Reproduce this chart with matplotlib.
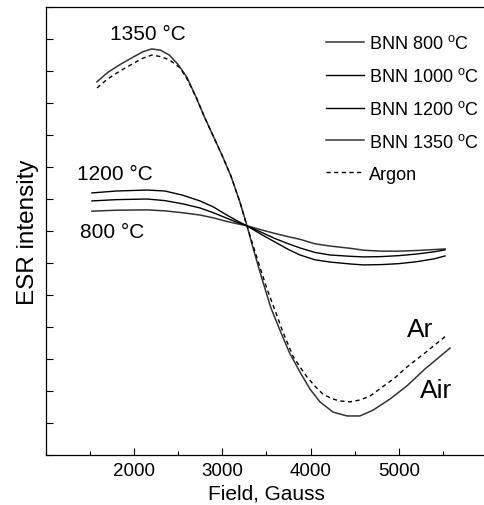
import matplotlib
matplotlib.use('Agg')
import matplotlib.pyplot as plt
from matplotlib.ticker import MultipleLocator, NullFormatter

plt.rcParams.update({
    'font.family': ['Liberation Sans', 'DejaVu Sans'],
    'font.size': 13,
    'mathtext.fontset': 'custom',
    'mathtext.rm': 'Liberation Sans',
})

# ── Data ──────────────────────────────────────────────────────────
# 1350 C sample measured in air (solid) and in argon (dashed)
air_x = [1580, 1700, 1841, 2000, 2100, 2200, 2300, 2400, 2500, 2600, 2700, 2800,
         2900, 3000, 3100, 3200, 3280, 3350, 3450, 3550, 3653, 3760, 3880, 3993,
         4106, 4254, 4412, 4559, 4706, 4900, 5091, 5300, 5579]
air_y = [11.66, 11.95, 12.2, 12.45, 12.6, 12.69, 12.65, 12.5, 12.2, 11.8, 11.2, 10.55,
         9.95, 9.35, 8.7, 7.9, 7.16, 6.45, 5.5, 4.6, 3.9, 3.2, 2.59, 2.06,
         1.66, 1.34, 1.22, 1.22, 1.4, 1.75, 2.16, 2.7, 3.34]

ar_x = [1581, 1700, 1841, 2000, 2100, 2204, 2300, 2400, 2521, 2600, 2700, 2800,
        2900, 3000, 3100, 3200, 3280, 3400, 3506, 3600, 3687, 3801, 3880, 3959,
        4050, 4140, 4250, 4333, 4446, 4560, 4672, 4800, 4950, 5091, 5300, 5545]
ar_y = [11.47, 11.75, 12.0, 12.25, 12.4, 12.5, 12.45, 12.35, 12.1, 11.75, 11.2, 10.55,
        9.95, 9.35, 8.7, 7.9, 7.15, 6.1, 5.19, 4.5, 3.84, 3.09, 2.75, 2.44,
        2.15, 1.9, 1.75, 1.69, 1.66, 1.72, 1.84, 2.1, 2.4, 2.75, 3.2, 3.75]

low_x = [1524, 1800, 2147, 2350, 2550, 2747, 2900, 3050, 3180, 3280, 3450, 3600,
         3750, 3880, 4050, 4220, 4446, 4600, 4800, 5000, 5200, 5400, 5522]
bnn1200_y = [8.19, 8.25, 8.28, 8.25, 8.12, 7.94, 7.75, 7.5, 7.3, 7.16, 6.88, 6.65,
             6.42, 6.25, 6.1, 6.03, 5.97, 5.94, 5.95, 5.98, 6.04, 6.13, 6.22]
bnn1000_y = [7.94, 7.98, 8.0, 7.95, 7.85, 7.72, 7.57, 7.4, 7.26, 7.16, 6.95, 6.76,
             6.6, 6.47, 6.33, 6.25, 6.21, 6.19, 6.2, 6.23, 6.28, 6.35, 6.41]
bnn800_y = [7.62, 7.65, 7.66, 7.63, 7.57, 7.5, 7.41, 7.3, 7.22, 7.16, 7.03, 6.92,
            6.82, 6.74, 6.6, 6.53, 6.46, 6.4, 6.37, 6.37, 6.39, 6.42, 6.44]

legend_labels = ['BNN 800 $^{\\rm o}$C', 'BNN 1000 $^{\\rm o}$C',
                 'BNN 1200 $^{\\rm o}$C', 'BNN 1350 $^{\\rm o}$C', 'Argon']

# ── Plot ──────────────────────────────────────────────────────────
fig = plt.figure(figsize=(4.85, 5.06), dpi=100)
ax = fig.add_axes([45.7 / 485, 50 / 506, 441.5 / 485, 448 / 506])

l800, = ax.plot(low_x, bnn800_y, color='#333333', lw=1.1)
l1000, = ax.plot(low_x, bnn1000_y, color='black', lw=1.0)
l1200, = ax.plot(low_x, bnn1200_y, color='black', lw=1.0)
l1350, = ax.plot(air_x, air_y, color='#333333', lw=1.1)
lar, = ax.plot(ar_x, ar_y, color='black', lw=1.0, ls=(0, (3, 2.5)))

ax.legend([l800, l1000, l1200, l1350, lar], legend_labels,
          loc='upper left', bbox_to_anchor=(0.618, 0.955), frameon=False,
          fontsize=13, handlelength=2.1, handletextpad=0.3, labelspacing=0.82,
          borderaxespad=0)

ax.text(2153, 13.0, '1350 °C', ha='center', va='baseline', fontsize=15)
ax.text(1785, 8.62, '1200 °C', ha='center', va='baseline', fontsize=15)
ax.text(1748, 6.81, '800 °C', ha='center', va='baseline', fontsize=15)
ax.text(5239, 3.72, 'Ar', ha='center', va='baseline', fontsize=19)
ax.text(5420, 1.81, 'Air', ha='center', va='baseline', fontsize=19)

ax.set_xlim(1000, 6000)
ax.set_ylim(0, 14)
ax.xaxis.set_minor_locator(MultipleLocator(500))
ax.set_xticks([2000, 3000, 4000, 5000])
ax.yaxis.set_major_locator(MultipleLocator(1))
ax.yaxis.set_major_formatter(NullFormatter())
ax.tick_params(direction='in', which='major', length=5, width=0.8,
               right=False, top=False, labelsize=13.5, pad=5)
ax.tick_params(direction='in', which='minor', length=3, width=0.8,
               right=False, top=False)
ax.spines['right'].set_visible(False)
for s in ['left', 'bottom', 'top']:
    ax.spines[s].set_linewidth(0.9)

ax.set_xlabel('Field, Gauss', fontsize=15, labelpad=3)
ax.set_ylabel('ESR intensity', fontsize=17.5, labelpad=0)

fig.savefig('out.png', dpi=100)
